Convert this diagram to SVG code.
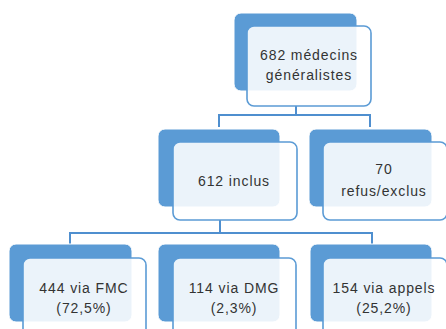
<svg xmlns="http://www.w3.org/2000/svg" width="446" height="329" viewBox="0 0 446 329">
<style>
.back{fill:#5B9BD5;stroke:#ffffff;stroke-width:1}
.front{fill:#ffffff;fill-opacity:0.88;stroke:#5B9BD5;stroke-width:1.6}
.lbl{font-family:"Liberation Sans",Arial,sans-serif;font-size:14px;fill:#333333;text-anchor:middle;letter-spacing:0.9px}
.conn{fill:none;stroke:#4F8FCF;stroke-width:2}
</style>
<rect width="446" height="329" fill="#ffffff"/>
<g id="connectors">
<path class="conn" d="M296 106 V115 M219 127 V115 H370 V127"/>
<path class="conn" d="M220 220 V233 M70 245 V233 H372 V245"/>
</g>
<g id="n_root">
<rect class="back" x="234" y="13" width="123" height="78" rx="7"/>
<rect class="front" x="247" y="26" width="124" height="80" rx="7"/>
<text class="lbl" x="309" y="60">682 médecins</text>
<text class="lbl" x="309" y="80">généralistes</text>
</g>
<g id="n_inclus">
<rect class="back" x="158" y="129" width="122" height="78" rx="7"/>
<rect class="front" x="173" y="142" width="124" height="78" rx="7"/>
<text class="lbl" x="234" y="186">612 inclus</text>
</g>
<g id="n_refus">
<rect class="back" x="309" y="129" width="123" height="78" rx="7"/>
<rect class="front" x="323" y="142" width="124" height="78" rx="7"/>
<text class="lbl" x="384" y="174">70</text>
<text class="lbl" x="384" y="196">refus/exclus</text>
</g>
<g id="n_fmc">
<rect class="back" x="9" y="244" width="123" height="78" rx="7"/>
<rect class="front" x="23" y="258" width="123" height="78" rx="7"/>
<text class="lbl" x="84" y="293">444 via FMC</text>
<text class="lbl" x="84" y="313">(72,5%)</text>
</g>
<g id="n_dmg">
<rect class="back" x="158" y="244" width="122" height="78" rx="7"/>
<rect class="front" x="173" y="258" width="123" height="78" rx="7"/>
<text class="lbl" x="234" y="293">114 via DMG</text>
<text class="lbl" x="234" y="313">(2,3%)</text>
</g>
<g id="n_appels">
<rect class="back" x="310" y="244" width="122" height="78" rx="7"/>
<rect class="front" x="323" y="258" width="124" height="78" rx="7"/>
<text class="lbl" x="384" y="293">154 via appels</text>
<text class="lbl" x="384" y="313">(25,2%)</text>
</g>
</svg>
